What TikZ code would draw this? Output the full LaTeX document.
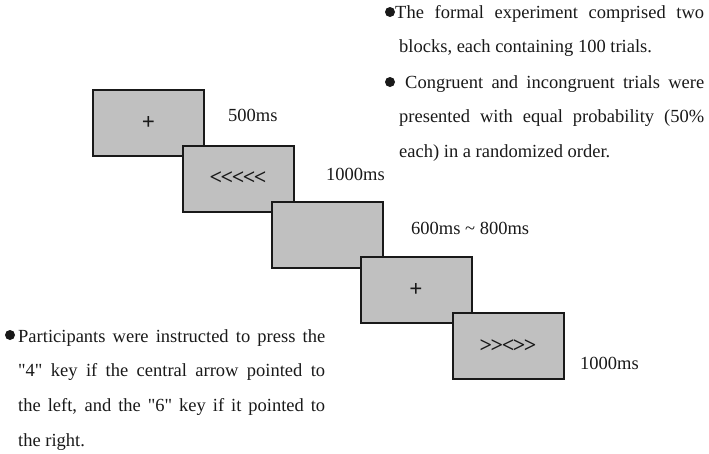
\documentclass[tikz,border=0pt]{standalone}
\usepackage{fontspec}
\setmainfont{Liberation Serif}[Ligatures=TeXOff]
\definecolor{scrgray}{RGB}{192,192,192}
\definecolor{inkc}{RGB}{25,25,25}
\begin{document}
\begin{tikzpicture}[x=1pt,y=-1pt,
  screen/.style={draw=inkc, line width=2pt, fill=scrgray, minimum width=111pt, minimum height=66pt, inner sep=0pt},
  stim/.style={text=inkc, font=\fontsize{22}{24}\selectfont\bfseries},
  cross/.style={text=inkc, font=\fontsize{23}{24}\selectfont\bfseries},
  dur/.style={anchor=base west, inner sep=0pt, text=inkc, font=\fontsize{18.5}{20}\selectfont},
  dotmark/.style={circle, fill=inkc, minimum size=10pt, inner sep=0pt},
  para/.style={anchor=base west, inner sep=0pt, align=justify, text=inkc, font=\fontsize{18.5}{34.8}\selectfont}
]
\useasboundingbox (0,0) rectangle (709,453);
% screens
\node[screen] (s1) at (148.5,123) {};
\node[cross] (t1) at (s1.center) {+};
\node[screen] (s2) at (238,178.5) {};
\node[stim] (t2) at (s2.center) {<\kern-1.5pt<\kern-1.5pt<\kern-1.5pt<\kern-1.5pt<};
\node[screen] (s3) at (327.5,235) {};
\node[screen] (s4) at (416,290) {};
\node[cross] (t4) at (s4.center) {+};
\node[screen] (s5) at (508,346) {};
\node[stim] (t5) at (s5.center) {>\kern-1.5pt>\kern-1.5pt<\kern-1.5pt>\kern-1.5pt>};
% durations
\node[dur] (d1) at (228,121) {500ms};
\node[dur] (d2) at (326,180) {1000ms};
\node[dur] (d3) at (411,234) {600ms \textasciitilde{} 800ms};
\node[dur] (d5) at (580,369) {1000ms};
% right notes
\node[dotmark] (b1) at (390,12) {};
\node[para, text width=305pt] (p1) at (399,18) {\hspace*{-4pt}The formal experiment comprised two\linebreak blocks, each containing 100 trials.};
\node[dotmark] (b2) at (390,82) {};
\node[para, text width=305pt] (p2) at (399,88) {\hspace*{6pt}Congruent and incongruent trials were\linebreak presented with equal probability (50\%\linebreak each) in a randomized order.};
% left note
\node[dotmark] (b3) at (10,335) {};
\node[para, text width=307pt] (p3) at (18,342) {Participants were instructed to press the\linebreak "4" key if the central arrow pointed to\linebreak the left, and the "6" key if it pointed to\linebreak the right.};
\end{tikzpicture}
\end{document}
